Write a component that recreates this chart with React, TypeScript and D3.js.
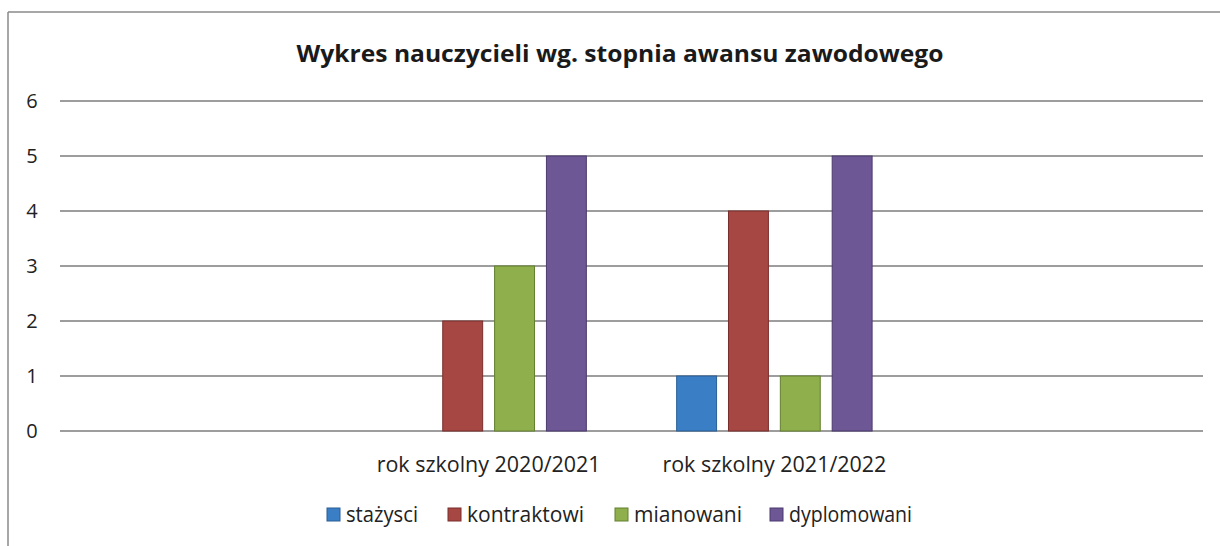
import * as d3 from "d3";

const categories = ["", "rok szkolny 2020/2021", "rok szkolny 2021/2022", ""];
const seriesNames = ["stażyści", "kontraktowi", "mianowani", "dyplomowani"];
const legendLabels = ["stażysci", "kontraktowi", "mianowani", "dyplomowani"];
const stazysci = [null, 0, 1, null];
const kontraktowi = [null, 2, 4, null];
const mianowani = [null, 3, 1, null];
const dyplomowani = [null, 5, 5, null];
const yTicks = [0, 1, 2, 3, 4, 5, 6];

const colors = ["#3a7fc6", "#a64744", "#8fae4c", "#6d5795"];
const strokes = ["#2a5f96", "#7a2e2c", "#63802f", "#4b3a6e"];

const W = 1220;
const H = 546;
const font = "'Open Sans', Lato, sans-serif";

export default function App() {
  const series = [stazysci, kontraktowi, mianowani, dyplomowani];

  const x0 = d3.scaleBand<string>()
    .domain(categories.map((_, i) => String(i)))
    .range([60, 1203])
    .paddingInner(0);
  const groupW = x0.bandwidth() * 0.684;
  const x1 = d3.scaleBand<string>()
    .domain(seriesNames)
    .range([0, groupW])
    .paddingInner(0.23);
  const y = d3.scaleLinear().domain([0, 6]).range([431, 101]);

  // legend swatch positions and text widths as in the original
  const legendX = [327, 448, 615, 770];
  const legendW = [72, 117, 108, 123];

  return (
    <svg width={W} height={H} style={{ position: "absolute", left: 0, top: 0, background: "#fff" }}>
      <rect x={0} y={0} width={W} height={H} fill="#fff" />
      {/* frame */}
      <line x1={8} y1={12} x2={W} y2={12} stroke="#8a8a8a" strokeWidth={1.5} />
      <line x1={8} y1={12} x2={8} y2={H} stroke="#8a8a8a" strokeWidth={1.5} />

      <text x={620} y={62} textAnchor="middle" fontFamily={font} fontWeight={700} fontSize={24}
        textLength={647} lengthAdjust="spacingAndGlyphs" fill="#1a1a1a">
        Wykres nauczycieli wg. stopnia awansu zawodowego
      </text>

      {yTicks.map((t) => (
        <g key={t}>
          <line x1={60} x2={1203} y1={y(t)} y2={y(t)} stroke="#7d7d7d" strokeWidth={1.5} />
          <text x={32} y={y(t) + 7} textAnchor="middle" fontFamily={font} fontSize={20} fill="#222">
            {t}
          </text>
        </g>
      ))}

      {categories.map((c, ci) => {
        const gx = (x0(String(ci)) ?? 0) + (x0.bandwidth() - groupW) / 2;
        return (
          <g key={ci}>
            {series.map((s, si) => {
              const v = s[ci];
              if (v == null || v === 0) return null;
              return (
                <rect
                  key={si}
                  x={gx + (x1(seriesNames[si]) ?? 0)}
                  y={y(v)}
                  width={x1.bandwidth()}
                  height={y(0) - y(v)}
                  fill={colors[si]}
                  stroke={strokes[si]}
                  strokeWidth={1}
                />
              );
            })}
            {c && (
              <text
                x={(x0(String(ci)) ?? 0) + x0.bandwidth() / 2}
                y={472}
                textAnchor="middle"
                fontFamily={font}
                fontSize={21}
                textLength={224}
                lengthAdjust="spacingAndGlyphs"
                fill="#222"
              >
                {c}
              </text>
            )}
          </g>
        );
      })}

      {legendLabels.map((l, i) => (
        <g key={l}>
          <rect x={legendX[i]} y={508} width={13} height={13} fill={colors[i]} stroke={strokes[i]} />
          <text x={legendX[i] + 19} y={522} fontFamily={font} fontSize={21}
            textLength={legendW[i]} lengthAdjust="spacingAndGlyphs" fill="#222">
            {l}
          </text>
        </g>
      ))}
    </svg>
  );
}
